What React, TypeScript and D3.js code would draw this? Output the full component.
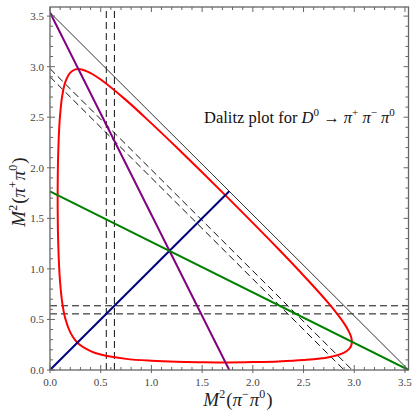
import React from "react";
import * as d3 from "d3";

const W = 412;
const H = 413;
const plot = { left: 50, right: 408.5, top: 7, bottom: 370 };

const xMax = 3.535;
const yMax = 3.59;

// Dalitz boundary for D0 -> pi+ pi- pi0, x = M²(π−π0)
const boundaryX = [0.0754, 0.077, 0.08, 0.09, 0.1, 0.12, 0.15, 0.2, 0.25, 0.3, 0.4, 0.5, 0.75, 1.0, 1.25, 1.5, 1.75, 2.0, 2.25, 2.5, 2.75, 2.9, 2.95, 2.97, 2.9766];
const boundaryUpper = [1.701, 1.946, 2.106, 2.377, 2.528, 2.707, 2.844, 2.941, 2.973, 2.975, 2.937, 2.873, 2.669, 2.439, 2.2, 1.955, 1.707, 1.455, 1.199, 0.935, 0.656, 0.461, 0.375, 0.323, 0.278];
const boundaryLower = [1.701, 1.455, 1.294, 1.02, 0.863, 0.672, 0.512, 0.372, 0.294, 0.245, 0.187, 0.153, 0.11, 0.091, 0.081, 0.077, 0.075, 0.078, 0.084, 0.098, 0.127, 0.172, 0.209, 0.241, 0.278];

// kinematic limit and symmetry lines
const sumLine = [[0, 3.535], [3.535, 0]];
const purpleLine = [[0, 3.535], [1.7675, 0]];
const blueLine = [[0, 0], [1.7675, 1.7675]];
const greenLine = [[0, 1.7675], [3.535, 0]];

// rho band edges
const rhoBand = [0.555, 0.635];

const majorTicks = [0, 0.5, 1, 1.5, 2, 2.5, 3, 3.5];
const tickLabels = ["0.0", "0.5", "1.0", "1.5", "2.0", "2.5", "3.0", "3.5"];
const minorTicks = d3.range(0, 36).map((i) => i / 10).filter((v) => Math.round(v * 10) % 5 !== 0);

const serif = "'Liberation Serif', 'Times New Roman', serif";

export default function App() {
  const x = d3.scaleLinear().domain([0, xMax]).range([plot.left, plot.right]);
  const y = d3.scaleLinear().domain([0, yMax]).range([plot.bottom, plot.top]);

  const line = d3.line<number[]>().x((d) => x(d[0])).y((d) => y(d[1]));

  const upperPts = boundaryX.map((v, i) => [v, boundaryUpper[i]]);
  const lowerPts = boundaryX.map((v, i) => [v, boundaryLower[i]]).slice(1, -1).reverse();
  const boundary = d3
    .line<number[]>()
    .x((d) => x(d[0]))
    .y((d) => y(d[1]))
    .curve(d3.curveCatmullRomClosed.alpha(0.5))([...upperPts, ...lowerPts]);

  const dashed: number[][][] = [];
  rhoBand.forEach((b) => {
    dashed.push([[b, 0], [b, yMax]]);
    dashed.push([[0, b], [xMax, b]]);
    dashed.push([[0, 3.535 - b], [3.535 - b, 0]]);
  });

  const frameColor = "#666";
  const ticks: JSX.Element[] = [];
  majorTicks.forEach((t, i) => {
    ticks.push(<line key={"bM" + i} x1={x(t)} x2={x(t)} y1={plot.bottom + 3} y2={plot.bottom - 5} />);
    ticks.push(<line key={"tM" + i} x1={x(t)} x2={x(t)} y1={plot.top} y2={plot.top + 5} />);
    ticks.push(<line key={"lM" + i} x1={plot.left - 3} x2={plot.left + 5} y1={y(t)} y2={y(t)} />);
    ticks.push(<line key={"rM" + i} x1={plot.right} x2={plot.right - 5} y1={y(t)} y2={y(t)} />);
  });
  minorTicks.forEach((t, i) => {
    ticks.push(<line key={"bm" + i} x1={x(t)} x2={x(t)} y1={plot.bottom} y2={plot.bottom - 3} />);
    ticks.push(<line key={"tm" + i} x1={x(t)} x2={x(t)} y1={plot.top} y2={plot.top + 3} />);
    ticks.push(<line key={"lm" + i} x1={plot.left} x2={plot.left + 3} y1={y(t)} y2={y(t)} />);
    ticks.push(<line key={"rm" + i} x1={plot.right} x2={plot.right - 3} y1={y(t)} y2={y(t)} />);
  });

  const axisLabel = (sign: string) => [
    <tspan key="m" fontStyle="italic">M</tspan>,
    <tspan key="s" dy={-8} fontSize={12}>2</tspan>,
    <tspan key="o" dy={8} dx={1}>(</tspan>,
    <tspan key="p1" fontStyle="italic">π</tspan>,
    <tspan key="s1" dy={-8} fontSize={12}>{sign}</tspan>,
    <tspan key="p2" dy={8} dx={1} fontStyle="italic">π</tspan>,
    <tspan key="s2" dy={-8} fontSize={12}>0</tspan>,
    <tspan key="c" dy={8} dx={1}>)</tspan>,
  ];

  return (
    <svg width={W} height={H} style={{ position: "absolute", left: 0, top: 0, background: "#fff" }} fontFamily={serif}>
      <defs>
        <clipPath id="plotClip">
          <rect x={plot.left} y={plot.top} width={plot.right - plot.left} height={plot.bottom - plot.top} />
        </clipPath>
      </defs>
      <g clipPath="url(#plotClip)" fill="none">
        {dashed.map((d, i) => (
          <path key={i} d={line(d) || ""} stroke="#111" strokeWidth={1} strokeDasharray="7,4" />
        ))}
        <path d={line(sumLine) || ""} stroke="#333" strokeWidth={1} />
        <path d={boundary || ""} stroke="#ff0000" strokeWidth={2} />
        <path d={line(purpleLine) || ""} stroke="#800080" strokeWidth={2} />
        <path d={line(blueLine) || ""} stroke="#000080" strokeWidth={2} />
        <path d={line(greenLine) || ""} stroke="#008000" strokeWidth={2} />
      </g>
      <rect x={plot.left} y={plot.top} width={plot.right - plot.left} height={plot.bottom - plot.top} fill="none" stroke={frameColor} strokeWidth={1.3} />
      <g stroke={frameColor} strokeWidth={1}>{ticks}</g>
      <g fontSize={11} fill="#444">
        {majorTicks.map((t, i) => (
          <text key={"xl" + i} x={x(t)} y={plot.bottom + 16} textAnchor="middle">{tickLabels[i]}</text>
        ))}
        {majorTicks.map((t, i) => (
          <text key={"yl" + i} x={plot.left - 6} y={y(t) + 4} textAnchor="end">{tickLabels[i]}</text>
        ))}
      </g>
      <text x={238} y={406} textAnchor="middle" fontSize={19} fill="#222">
        {axisLabel("−")}
      </text>
      <text transform="translate(25,192) rotate(-90)" textAnchor="middle" fontSize={19} fill="#222">
        {axisLabel("+")}
      </text>
      <text x={204} y={123} fontSize={16.5} fill="#111">
        <tspan>Dalitz plot for </tspan>
        <tspan fontStyle="italic">D</tspan>
        <tspan dy={-7} fontSize={11}>0</tspan>
        <tspan dy={7}> → </tspan>
        <tspan fontStyle="italic">π</tspan>
        <tspan dy={-7} fontSize={11}>+</tspan>
        <tspan dy={7}> </tspan>
        <tspan fontStyle="italic">π</tspan>
        <tspan dy={-7} fontSize={11}>−</tspan>
        <tspan dy={7}> </tspan>
        <tspan fontStyle="italic">π</tspan>
        <tspan dy={-7} fontSize={11}>0</tspan>
      </text>
    </svg>
  );
}
